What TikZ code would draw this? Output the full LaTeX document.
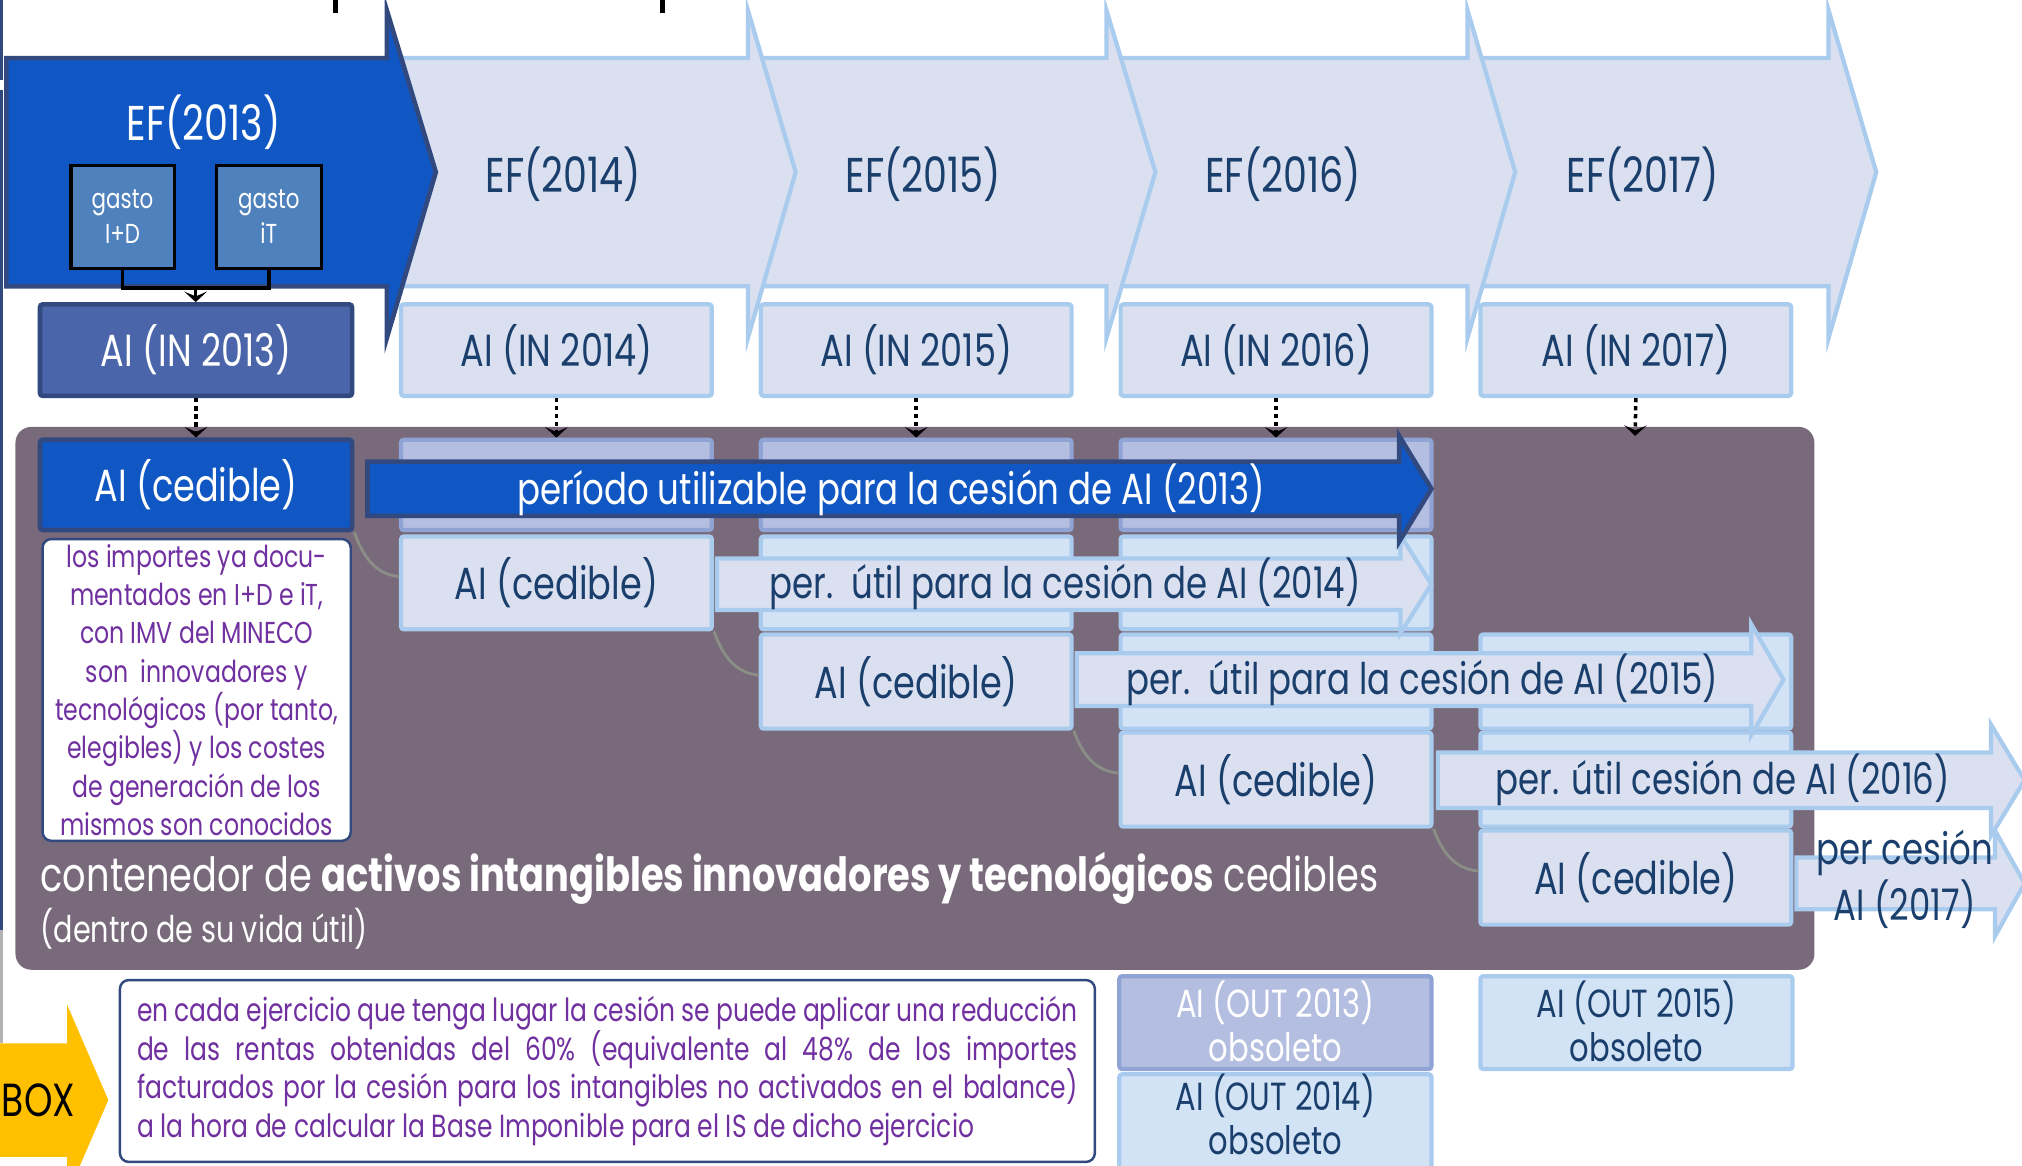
\documentclass[tikz,border=0pt]{standalone}
\usepackage{fontspec}
\setmainfont{Poppins}[FakeStretch=0.78]
\usetikzlibrary{arrows.meta,calc}
\definecolor{darkB}{HTML}{1157C3}
\definecolor{navyB}{HTML}{32497F}
\definecolor{midB}{HTML}{4A65AA}
\definecolor{gastoF}{HTML}{4F81BD}
\definecolor{lightF}{HTML}{DAE0F0}
\definecolor{lightE}{HTML}{A9CBEE}
\definecolor{lavF}{HTML}{B3BEE0}
\definecolor{lavE}{HTML}{8FA4D4}
\definecolor{skyF}{HTML}{D3E3F6}
\definecolor{contF}{HTML}{786A7B}
\definecolor{purpleT}{HTML}{7030A0}
\definecolor{navyT}{HTML}{1B3F6D}
\definecolor{yellowB}{HTML}{FFC000}
\definecolor{curveC}{HTML}{8B8E86}
\newdimen\dpx \dpx=0.012895cm
\newcommand\fzEF{\fontsize{13.9}{16}\selectfont}
\newcommand\fzAI{\fontsize{12.8}{14.6}\selectfont}
\newcommand\fzP{\fontsize{12.4}{14.6}\selectfont}
\newcommand\fzG{\fontsize{7.8}{10}\selectfont}
\newcommand\fzN{\fontsize{8.6}{10.9}\selectfont}
\newcommand\fzB{\fontsize{9.1}{11}\selectfont}
\newcommand\fzT{\fontsize{13.4}{15}\selectfont}
\newcommand\fzS{\fontsize{10.45}{12}\selectfont}
\newcommand\fzO{\fontsize{11.15}{12.4}\selectfont}
\newcommand\fzBOX{\fontsize{13.2}{15}\selectfont}
\newcommand\boxat[7]{\node[#2, minimum width={(#5-#3)*\dpx}, minimum height={(#6-#4)*\dpx}, inner sep=0pt, align=center] (#1) at ({(#3+#5)/2},{(#4+#6)/2}) {#7};}
\newcommand\chev[4]{\filldraw[#4] (#1,45) -- (#2,45) -- (#2,8) -- (#3,133.5) -- (#2,262) -- (#2,222) -- (#1,222) -- cycle;}
\newcommand\parr[7]{\filldraw[#7] (#1,#4-#5) -- (#2,#4-#5) -- (#2,#4-#6) -- (#3,#4) -- (#2,#4+#6) -- (#2,#4+#5) -- (#1,#4+#5) -- cycle;}
\tikzset{
  chevlight/.style={fill=lightF, draw=lightE, line width=1.2pt, line join=miter},
  chevdark/.style={fill=darkB, draw=navyB, line width=1.3pt, line join=miter},
  darkbox/.style={fill=darkB, draw=navyB, line width=1.3pt, text=white, font=\fzAI, rounded corners=0.8pt},
  inbox/.style={fill=midB, draw=navyB, line width=1.3pt, text=white, font=\fzAI, rounded corners=0.8pt},
  lightbox/.style={fill=lightF, draw=lightE, line width=1.2pt, text=navyT, font=\fzAI, rounded corners=0.8pt},
  lavbox/.style={fill=lavF, draw=lavE, line width=1.2pt, rounded corners=0.8pt},
  skybox/.style={fill=skyF, draw=lightE, line width=1.2pt, text=navyT, rounded corners=0.8pt},
  gastobox/.style={fill=gastoF, draw=black, line width=0.9pt, text=white, font=\fzG},
  eflabel/.style={text=navyT, font=\fzEF},
  outtext/.style={font=\fzO, align=center, inner sep=0pt},
  joinline/.style={draw=black, line width=1pt},
  tipv/.style={-{Stealth[length=3pt, width=6.5pt, inset=1.4pt]}},
  dotarrow/.style={tipv, draw=black, line width=1pt, dash pattern=on 1.2pt off 1.1pt},
  curvec/.style={draw=curveC, line width=0.8pt},
  darkarrow/.style={fill=darkB, draw=navyB, line width=1.3pt, line join=miter},
  lightarrow/.style={fill=lightF, draw=lightE, line width=1.2pt, line join=miter},
  notebox/.style={fill=white, draw=navyB, line width=0.7pt, rounded corners=2.5pt},
  contbox/.style={fill=contF, rounded corners=4.5pt},
}
\begin{document}
\begin{tikzpicture}[x=0.012895cm, y=-0.012895cm]
\useasboundingbox (0,0) rectangle (1568,904);
\clip (0,0) rectangle (1568,904);
% fragments and left edge line
\fill[black] (258,0) rectangle (262,10);
\fill[black] (512,0) rectangle (516,10);
\fill[navyB] (0,0) rectangle (2.5,62);
\fill[navyB] (0,70) rectangle (2.5,721);
\fill[black!30] (0,721) rectangle (2.5,809);
% chevrons (right to left)
\chev{1141}{1418}{1455}{chevlight}
\chev{862}{1138}{1175}{chevlight}
\chev{583}{858}{896}{chevlight}
\chev{303}{580}{617}{chevlight}
\chev{5}{300}{338}{chevdark}
\node[eflabel, text=white] (ef13) at (158,95) {EF(2013)};
\node[eflabel] (ef14) at (437,135) {EF(2014)};
\node[eflabel] (ef15) at (716,135) {EF(2015)};
\node[eflabel] (ef16) at (995,135) {EF(2016)};
\node[eflabel] (ef17) at (1274,135) {EF(2017)};
% gasto boxes
\boxat{g1}{gastobox}{55}{128}{135}{208}{gasto\\I+D}
\boxat{g2}{gastobox}{168}{128}{249}{208}{gasto\\iT}
% AI IN row
\boxat{in1}{inbox}{31}{236}{273}{307}{AI (IN 2013)}
\boxat{in2}{lightbox}{311}{236}{552}{307}{AI (IN 2014)}
\boxat{in3}{lightbox}{590}{236}{831}{307}{AI (IN 2015)}
\boxat{in4}{lightbox}{869}{236}{1110}{307}{AI (IN 2016)}
\boxat{in5}{lightbox}{1148}{236}{1389}{307}{AI (IN 2017)}
\draw[joinline] (g1.south) -- ++(0,14) -| (g2.south);
\coordinate (jn) at ($(g1.south)!0.5!(g2.south)+(0,14)$);
\draw[joinline, tipv] (jn) -- (jn |- in1.north);
% container
\boxat{cont}{contbox}{12}{331}{1407}{752}{}
% row boxes
\boxat{ced1}{darkbox}{31}{341}{273}{411}{AI (cedible)}
\boxat{l2}{lavbox}{311}{341}{552}{411}{}
\boxat{l3}{lavbox}{590}{341}{831}{411}{}
\boxat{l4}{lavbox}{869}{341}{1110}{411}{}
\boxat{ced2}{lightbox}{311}{416}{552}{488}{AI (cedible)}
\boxat{s23}{skybox}{590}{416}{831}{488}{}
\boxat{s24}{skybox}{869}{416}{1110}{488}{}
\boxat{ced3}{lightbox}{590}{492}{831}{565}{AI (cedible)}
\boxat{s34}{skybox}{869}{492}{1110}{565}{}
\boxat{s35}{skybox}{1148}{492}{1389}{565}{}
\boxat{ced4}{lightbox}{869}{568}{1110}{641}{AI (cedible)}
\boxat{s45}{skybox}{1148}{568}{1389}{641}{}
\boxat{ced5}{lightbox}{1148}{644}{1389}{717}{AI (cedible)}
% dotted arrows
\coordinate (e5) at (1268,338);
\draw[dotarrow] (in1.south) -- (ced1.north);
\draw[dotarrow] (in2.south) -- (l2.north);
\draw[dotarrow] (in3.south) -- (l3.north);
\draw[dotarrow] (in4.south) -- (l4.north);
\draw[dotarrow] (in5.south) -- (e5);
% curved connectors
\draw[curvec] (ced1.south east) to[out=-70,in=175] ($(ced2.west)+(0,-5)$);
\draw[curvec] (ced2.south east) to[out=-70,in=175] ($(ced3.west)+(0,-5)$);
\draw[curvec] (ced3.south east) to[out=-70,in=175] ($(ced4.west)+(0,-5)$);
\draw[curvec] (ced4.south east) to[out=-70,in=175] ($(ced5.west)+(0,-5)$);
% period arrows
\parr{1393}{1547}{1570}{685}{20}{41}{lightarrow}
\parr{1115}{1544}{1570}{605}{21.5}{43}{lightarrow}
\parr{835}{1358}{1383}{527}{20.5}{43}{lightarrow}
\parr{556}{1086}{1110}{453}{20}{38}{lightarrow}
\parr{285}{1085}{1110}{379}{21}{41}{darkarrow}
\node[text=white, font=\fzP] (p13) at (691,380) {período utilizable para la cesión de AI (2013)};
\node[text=navyT, font=\fzP] (p14) at (826,453) {per.\ \ útil para la cesión de AI (2014)};
\node[text=navyT, font=\fzP] (p15) at (1103,527) {per.\ \ útil para la cesión de AI (2015)};
\node[text=navyT, font=\fzP] (p16) at (1336,605) {per. útil cesión de AI (2016)};
\node[text=navyT, font=\fzP, align=center, inner sep=0pt] (p17) at (1477,682) {per cesión\\AI (2017)};
% notes box
\boxat{note}{notebox, text=purpleT, font=\fzN}{33}{418}{272}{652}{los importes ya docu-\\mentados en I+D e iT,\\con IMV del MINECO\\son\ \ innovadores y\\tecnológicos (por tanto,\\elegibles) y los costes\\de generación de los\\mismos son conocidos}
% container texts
\node[text=white, font=\fzT, anchor=west, inner sep=0pt] (ctitle) at (31,681) {contenedor de \textbf{activos intangibles innovadores y tecnológicos} cedibles};
\node[text=white, font=\fzS, anchor=west, inner sep=0pt] (csub) at (31,720) {(dentro de su vida útil)};
% BOX arrow
\fill[yellowB] (0,809) -- (52,809) -- (52,779) -- (84,853) -- (52,927) -- (52,897) -- (0,897) -- cycle;
\node[text=black, font=\fzBOX, anchor=west, inner sep=0pt] (boxlbl) at (1,853) {BOX};
% bottom text box
\boxat{bt}{notebox}{93}{760}{849}{901}{}
\node[text=purpleT, font=\fzB, align=left, inner sep=0pt] (btxt) at (bt.center) {%
\makebox[267.6pt][s]{en cada ejercicio que tenga lugar la cesión se puede aplicar una reducción}\\
\makebox[267.6pt][s]{de las rentas obtenidas del 60\% (equivalente al 48\% de los importes}\\
\makebox[267.6pt][s]{facturados por la cesión para los intangibles no activados en el balance)}\\
\makebox[267.6pt][l]{a la hora de calcular la Base Imponible para el IS de dicho ejercicio}};
% OUT boxes
\boxat{o13}{lavbox}{868}{757}{1110}{829}{}
\boxat{o14}{skybox}{868}{833}{1110}{908}{}
\boxat{o15}{skybox}{1148}{757}{1390}{829}{}
\node[outtext, text=white] (o13t) at (989,792) {AI (OUT 2013)\\obsoleto};
\node[outtext, text=navyT] (o14t) at (989,864) {AI (OUT 2014)\\obsoleto};
\node[outtext, text=navyT] (o15t) at (1269,792) {AI (OUT 2015)\\obsoleto};
\end{tikzpicture}
\end{document}
